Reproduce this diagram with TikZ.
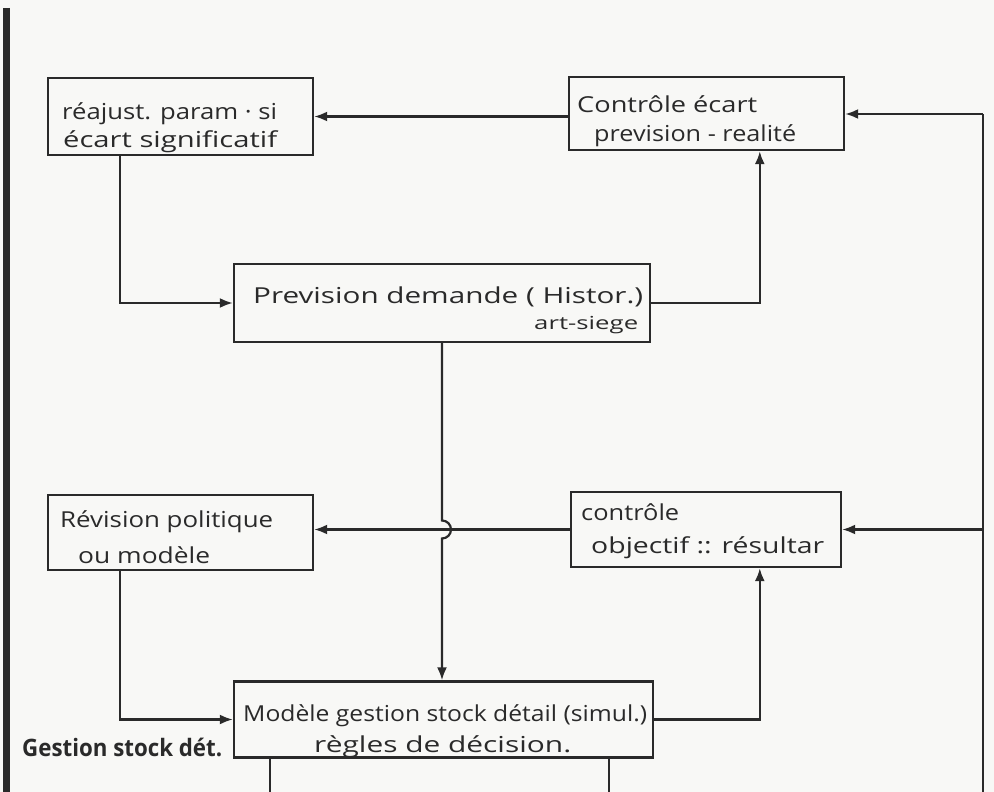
\documentclass[tikz,border=0pt]{standalone}
\usepackage{fontspec}
\setmainfont{Open Sans}
\usepackage{graphicx}
\usetikzlibrary{arrows.meta}
\definecolor{ink}{HTML}{2A2A2A}
\definecolor{paper}{HTML}{F8F8F6}
% stretch a line of text horizontally to a given width, keeping its height
\newcommand\fitline[2]{\resizebox{#1}{\height}{#2}}
\begin{document}
\begin{tikzpicture}[x=1pt,y=-1pt,
  box/.style={draw=ink, line width=2.4pt, rectangle, inner sep=0pt},
  conn/.style={draw=ink, line width=2.2pt},
  flow/.style={conn, -{Latex[length=13pt,width=10pt]}},
  hand/.style={anchor=base west, inner sep=0pt, text=ink, font=\fontsize{22}{26}\selectfont},
]
\fill[paper] (0,0) rectangle (994,792);
\useasboundingbox (0,0) rectangle (994,792);

% margin bar
\draw[ink, line width=7pt] (6,8) -- (6,792);

% boxes
\node[box, minimum width=265pt, minimum height=77pt] (A) at (180.5,116.5) {};
\node[box, minimum width=275pt, minimum height=73pt] (B) at (706.5,113.5) {};
\node[box, minimum width=416pt, minimum height=78pt] (C) at (442,303) {};
\node[box, minimum width=265pt, minimum height=75pt] (D) at (180.5,532.5) {};
\node[box, minimum width=270pt, minimum height=75pt] (E) at (706,529.5) {};
\node[box, minimum width=419pt, minimum height=76pt] (F) at (443.5,719.5) {};

% box texts
\node[hand] (a1) at (62,119) {\fitline{215pt}{réajust. param · si}};
\node[hand] (a2) at (63,147) {\fitline{214pt}{écart significatif}};
\node[hand] (b1) at (577,112) {\fitline{180pt}{Contrôle  écart}};
\node[hand] (b2) at (594,141) {\fitline{202pt}{prevision - realité}};
\node[hand] (c1) at (253,303) {\fitline{390pt}{Prevision  demande  ( Histor.)}};
\node[hand, font=\fontsize{18}{22}\selectfont] (c2) at (534,329) {\fitline{104pt}{art-siege}};
\node[hand] (d1) at (60,527) {\fitline{213pt}{Révision  politique}};
\node[hand] (d2) at (78,563) {\fitline{132pt}{ou  modèle}};
\node[hand] (e1) at (581,520) {\fitline{98pt}{contrôle}};
\node[hand] (e2) at (591,553) {\fitline{233pt}{objectif :: résultar}};
\node[hand] (f1) at (243,721) {\fitline{404pt}{Modèle gestion stock détail (simul.)}};
\node[hand] (f2) at (314,752) {\fitline{257pt}{règles  de  décision.}};
\node[hand, font=\fontsize{24}{28}\selectfont\bfseries] (lbl) at (22,756) {\fitline{200pt}{Gestion stock dét.}};

% feedback rail on the right
\coordinate (rtop) at (983,114);
\coordinate (rmid) at (983,529.5);
\coordinate (rbot) at (983,792);
\draw[conn] (rtop) -- (rbot);
\draw[flow] (rtop) -- (rtop -| B.east);
\draw[flow] (rmid) -- (E.east);

% upper loop
\draw[flow] (A.east -| B.west) -- (A.east);
\draw[flow] ([xshift=73pt]A.south west) |- (C.west);
\draw[flow] (C.east) -| ([xshift=192pt]B.south west);

% lower loop
\draw[flow] (E.west) -- (E.west -| D.east);
\draw[flow] ([xshift=73pt]D.south west) |- (F.west);
\draw[flow] (F.east) -| ([xshift=190pt]E.south west);

% forecast feeds the stock model, hopping over the lower loop line
\draw[flow] (C.south) -- ([yshift=9pt]C.south |- E.west)
  arc[start angle=90, end angle=-90, radius=9pt] -- (C.south |- F.north);

% outputs of the stock model
\coordinate (o1) at ([xshift=37pt]F.south west);
\coordinate (o2) at ([xshift=376pt]F.south west);
\draw[conn] (o1) -- (o1 |- rbot);
\draw[conn] (o2) -- (o2 |- rbot);
\end{tikzpicture}
\end{document}
